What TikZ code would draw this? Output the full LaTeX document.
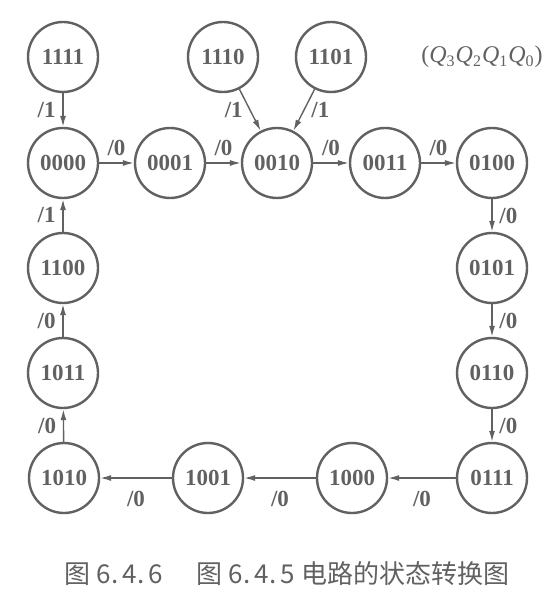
\documentclass[tikz,border=0pt]{standalone}
\usepackage{fontspec}
\usetikzlibrary{arrows.meta}
\setmainfont{Liberation Serif}
\newfontfamily\cjk{Noto Sans CJK SC}
\definecolor{grigio}{gray}{0.38}
\tikzset{
  stato/.style={circle,draw=grigio,line width=1.2pt,minimum size=35pt,inner sep=0pt,
    text=grigio,font=\fontsize{11.5}{13}\selectfont\bfseries},
  freccia/.style={-{Latex[length=5.5pt,width=3pt]},draw=grigio,line width=0.7pt},
  etich/.style={text=grigio,font=\fontsize{11.5}{13}\selectfont\bfseries}
}
\begin{document}
\begin{tikzpicture}[x=0.5pt,y=-0.5pt]
        \useasboundingbox (0,0) rectangle (556,592);
        %stati iniziali
        \node[stato] (q15) at (63,57) {1111};
        \node[stato] (q14) at (223,57) {1110};
        \node[stato] (q13) at (331,57) {1101};
        \node[text=grigio,font=\fontsize{12}{14}\selectfont] (lett) at (482,57) {(\textit{Q}\textsubscript{3}\textit{Q}\textsubscript{2}\textit{Q}\textsubscript{1}\textit{Q}\textsubscript{0})};

        %riga alta
        \node[stato] (q0) at (63,163) {0000};
        \node[stato] (q1) at (170,163) {0001};
        \node[stato] (q2) at (277,163) {0010};
        \node[stato] (q3) at (385,163) {0011};
        \node[stato] (q4) at (492,163) {0100};
        %colonna destra
        \node[stato] (q5) at (492,268) {0101};
        \node[stato] (q6) at (492,373) {0110};
        \node[stato] (q7) at (492,478) {0111};
        %riga bassa
        \node[stato] (q8) at (352,478) {1000};
        \node[stato] (q9) at (208,478) {1001};
        \node[stato] (q10) at (64,478) {1010};
        %colonna sinistra
        \node[stato] (q11) at (63,373) {1011};
        \node[stato] (q12) at (63,268) {1100};

        %transizioni
        \draw[freccia] (q15) -- node[etich,left]{/1} (q0);
        \draw[freccia] (q14) -- node[etich,left]{/1} (q2);
        \draw[freccia] (q13) -- node[etich,right]{/1} (q2);
        \draw[freccia] (q0) -- node[etich,above]{/0} (q1);
        \draw[freccia] (q1) -- node[etich,above]{/0} (q2);
        \draw[freccia] (q2) -- node[etich,above]{/0} (q3);
        \draw[freccia] (q3) -- node[etich,above]{/0} (q4);
        \draw[freccia] (q4) -- node[etich,right]{/0} (q5);
        \draw[freccia] (q5) -- node[etich,right]{/0} (q6);
        \draw[freccia] (q6) -- node[etich,right]{/0} (q7);
        \draw[freccia] (q7) -- node[etich,below=3pt]{/0} (q8);
        \draw[freccia] (q8) -- node[etich,below=3pt]{/0} (q9);
        \draw[freccia] (q9) -- node[etich,below=3pt]{/0} (q10);
        \draw[freccia] (q10) -- node[etich,left]{/0} (q11);
        \draw[freccia] (q11) -- node[etich,left]{/0} (q12);
        \draw[freccia] (q12) -- node[etich,left]{/1} (q0);

        %didascalia
        \node[text=grigio,font=\cjk\fontsize{13}{15}\selectfont] (didasc) at (287,574) {图 6.\,4.\,6\hspace{1.3em}图 6.\,4.\,5 电路的状态转换图};
    \end{tikzpicture}
\end{document}
